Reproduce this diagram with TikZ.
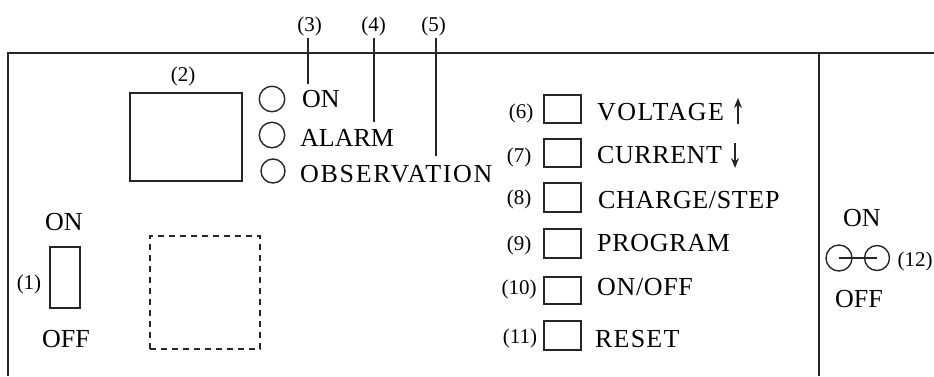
\documentclass[tikz,border=0pt]{standalone}
\usepackage{fontspec}
\setmainfont{Liberation Serif}
\usetikzlibrary{arrows.meta}
\newcommand{\spaced}[2]{\addfontfeature{LetterSpace=#1}#2}
\tikzset{
  txt/.style={anchor=base west,inner sep=0pt,font=\fontsize{26}{26}\selectfont},
  num/.style={anchor=base,inner sep=0pt,font=\fontsize{21}{21}\selectfont},
  ln/.style={draw=black!85,line width=1.4pt},
  rbox/.style={ln,rectangle,inner sep=0pt},
  led/.style={ln,circle,inner sep=0pt},
  keybox/.style={rbox,minimum width=37pt},
  tip/.style={ln,-{Stealth[length=10pt,width=8pt]}}
}
\begin{document}
\begin{tikzpicture}[x=1pt,y=-1pt]
\useasboundingbox (0,0) rectangle (934,376);
% frame
\coordinate (fa) at (8,376);
\coordinate (fb) at (8,53);
\coordinate (fc) at (934,53);
\coordinate (fd) at (819,53);
\coordinate (fe) at (819,376);
\draw[ln] (fa) -- (fb) -- (fc);
\draw[ln] (fd) -- (fe);
% display and cutout
\node[rbox,minimum width=112pt,minimum height=88pt] (disp) at (186,137) {};
\node[rbox,dashed,dash pattern=on 6pt off 5pt,minimum width=110pt,minimum height=113pt] (cut) at (205,292.5) {};
\node[num] (l2) at (183,81) {(2)};
% LEDs
\node[led,minimum size=25.5pt] (led1) at (272,99) {};
\node[led,minimum size=25.5pt] (led2) at (272,135) {};
\node[led,minimum size=24pt] (led3) at (273,171) {};
\node[txt] (ton) at (302,107) {ON};
\node[txt] (talarm) at (300,146) {ALARM};
\node[txt] (tobs) at (300,182) {\spaced{6.6}{OBSERVATION}};
% callouts
\node[num] (l3) at (309.5,31) {(3)};
\node[num] (l4) at (373.5,31) {(4)};
\node[num] (l5) at (433.5,31) {(5)};
\coordinate (c3a) at (308,38); \coordinate (c3b) at (308,84);
\coordinate (c4a) at (374,38); \coordinate (c4b) at (374,122);
\coordinate (c5a) at (436,38); \coordinate (c5b) at (436,156);
\draw[ln] (c3a) -- (c3b);
\draw[ln] (c4a) -- (c4b);
\draw[ln] (c5a) -- (c5b);
% keys
\node[keybox,minimum height=28pt] (k6) at (562.5,109) {};
\node[keybox,minimum height=28pt] (k7) at (562.5,153) {};
\node[keybox,minimum height=29pt] (k8) at (562.5,197.5) {};
\node[keybox,minimum height=29pt] (k9) at (562.5,243.5) {};
\node[keybox,minimum height=27pt] (k10) at (562.5,290.5) {};
\node[keybox,minimum height=29pt] (k11) at (562.5,335.5) {};
\node[num] (l6) at (521,118) {(6)};
\node[num] (l7) at (519,162) {(7)};
\node[num] (l8) at (519,204) {(8)};
\node[num] (l9) at (519,250) {(9)};
\node[num] (l10) at (519,294) {(10)};
\node[num] (l11) at (520,343) {(11)};
\node[txt] (t6) at (597,120) {\spaced{5.5}{VOLTAGE}};
\node[txt] (t7) at (597,163) {\spaced{2.2}{CURRENT}};
\node[txt] (t8) at (598,208) {\spaced{2.5}{CHARGE/STEP}};
\node[txt] (t9) at (597,251) {\spaced{2.7}{PROGRAM}};
\node[txt] (t10) at (597,295) {\spaced{2.5}{ON/OFF}};
\node[txt] (t11) at (595,347) {\spaced{4.6}{RESET}};
\coordinate (ua) at (738,124); \coordinate (ub) at (738,98);
\coordinate (da) at (735,143); \coordinate (db) at (735,168);
\draw[tip] (ua) -- (ub);
\draw[tip] (da) -- (db);
% left switch
\node[txt] (son) at (45,230) {ON};
\node[rbox,minimum width=30pt,minimum height=61pt] (sw) at (65,277.5) {};
\node[txt] (soff) at (42,347) {OFF};
\node[num] (l1) at (29,289) {(1)};
% right switch
\node[txt] (ron) at (843,226) {ON};
\node[txt] (roff) at (835,307) {OFF};
\node[led,minimum size=26pt] (r1) at (839,258) {};
\node[led,minimum size=25pt] (r2) at (877,258) {};
\draw[ln] (r1.center) -- (r2.center);
\node[num] (l12) at (915,266) {(12)};
\end{tikzpicture}
\end{document}
